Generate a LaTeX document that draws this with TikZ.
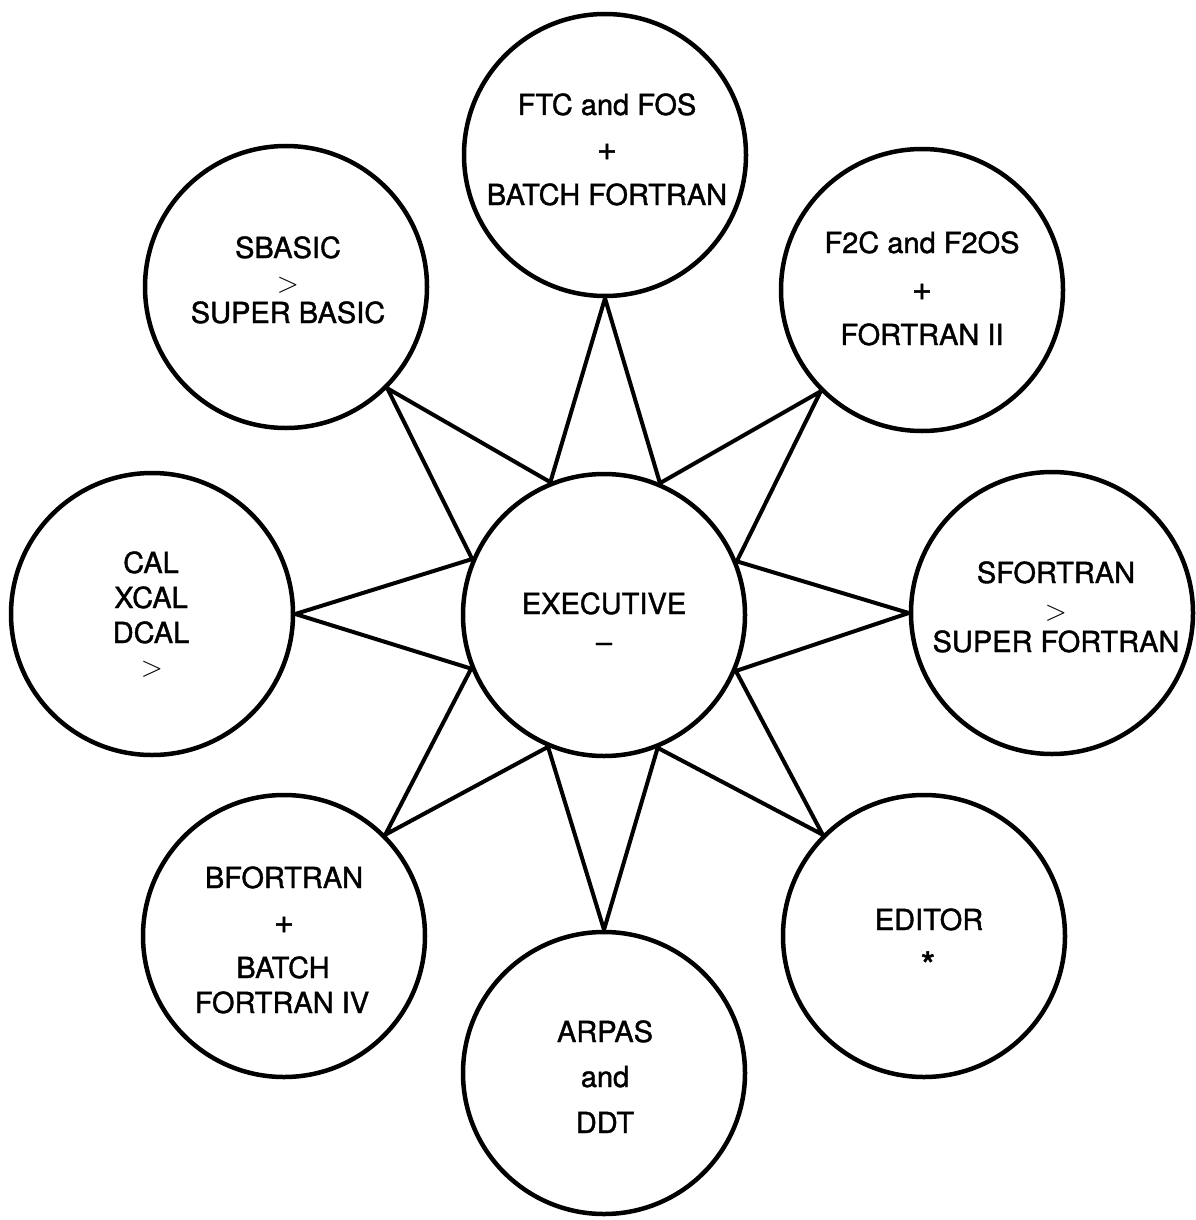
\RequirePackage{fix-cm}
\documentclass[tikz,border=0pt]{standalone}
\usepackage{fontspec}
\setmainfont{TeX Gyre Heros}
\newfontfamily\medfont{TeX Gyre Heros}[FakeBold=1.3]
\usetikzlibrary{backgrounds}
\begin{document}
\begin{tikzpicture}[x=1pt,y=-1pt,
  ring/.style={circle, draw, line width=4.5pt, fill=white, minimum size=282pt, inner sep=0pt},
  txt/.style={anchor=base, inner sep=0pt, font=\fontsize{29}{34}\medfont},
  spoke/.style={line width=4pt, line join=miter}]
\useasboundingbox (0,0) rectangle (1195,1220);
% circles
\node[ring] (exec)   at (604,615)  {};
\node[ring] (ftc)    at (605,155)  {};
\node[ring] (f2c)    at (922,290)  {};
\node[ring] (sfor)   at (1052,613) {};
\node[ring] (editor) at (924,936)  {};
\node[ring] (arpas)  at (604,1073) {};
\node[ring] (bfor)   at (284,936)  {};
\node[ring] (cal)    at (152,614)  {};
\node[ring] (sbasic) at (286,287)  {};
% star connectors
\begin{scope}[on background layer]
\draw[spoke] (exec.112.5) -- (ftc.south) -- (exec.67.5) -- (f2c.225) -- (exec.22.5)
  -- (sfor.west) -- (exec.337.5) -- (editor.135) -- (exec.292.5) -- (arpas.north)
  -- (exec.247.5) -- (bfor.45) -- (exec.202.5) -- (cal.east) -- (exec.157.5)
  -- (sbasic.315) -- cycle;
\end{scope}
% texts
\node[txt] (ex1) at (604,614) {EXECUTIVE};
\node[txt] (ex2) at (604,652) {–};
\node[txt] (ft1) at (607,115) {FTC and FOS};
\node[txt] (ft2) at (607,160) {\fontsize{34}{34}\selectfont +};
\node[txt] (ft3) at (607,205) {BATCH FORTRAN};
\node[txt] (fc1) at (922,253) {F2C and F2OS};
\node[txt] (fc2) at (922,300) {\fontsize{34}{34}\selectfont +};
\node[txt] (fc3) at (922,345) {FORTRAN II};
\node[txt] (sb1) at (288,258) {SBASIC};
\node[txt] (sb2) at (288,292) {$>$};
\node[txt] (sb3) at (288,323) {SUPER BASIC};
\node[txt] (ca1) at (151,573) {CAL};
\node[txt] (ca2) at (151,608) {XCAL};
\node[txt] (ca3) at (151,643) {DCAL};
\node[txt] (ca4) at (152,676) {$>$};
\node[txt] (sf1) at (1056,583) {SFORTRAN};
\node[txt] (sf2) at (1056,620) {$>$};
\node[txt] (sf3) at (1056,652) {SUPER FORTRAN};
\node[txt] (ed1) at (929,930) {EDITOR};
\node[txt] (ed2) at (928,979) {\fontsize{38}{38}\selectfont *};
\node[txt] (ar1) at (605,1042) {ARPAS};
\node[txt] (ar2) at (605,1087) {and};
\node[txt] (ar3) at (605,1133) {DDT};
\node[txt] (bf1) at (284,888) {BFORTRAN};
\node[txt] (bf2) at (284,933) {\fontsize{34}{34}\selectfont +};
\node[txt] (bf3) at (283,978) {BATCH};
\node[txt] (bf4) at (282,1013) {FORTRAN IV};
\end{tikzpicture}
\end{document}
